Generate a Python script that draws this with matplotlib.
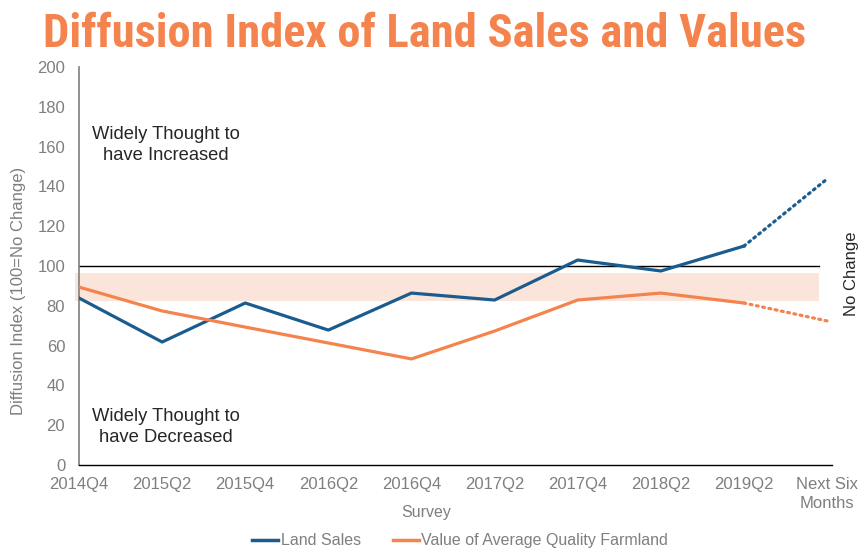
import matplotlib
matplotlib.use("Agg")
import matplotlib.pyplot as plt
from matplotlib.lines import Line2D
from matplotlib import font_manager as fm

categories = ["2014Q4", "2015Q2", "2015Q4", "2016Q2", "2016Q4", "2017Q2",
              "2017Q4", "2018Q2", "2019Q2", "Next Six\nMonths"]
land_sales = [83.9, 61.8, 81.4, 67.8, 86.4, 82.9, 103.0, 97.5, 110.0, 143.7]
farmland = [89.4, 77.4, 69.3, 61.3, 53.3, 67.3, 82.9, 86.4, 81.4, 72.4]
no_change_level = 100
band_low, band_high = 82.2, 96.4
yticks = list(range(0, 201, 20))

BLUE = "#1A5C8E"
ORANGE = "#F5834D"
BAND = "#FBE5DA"
GRAY = "#7F7F7F"

plt.rcParams['font.family'] = ['Liberation Sans', 'DejaVu Sans']


def pick_title_font():
    entries = fm.fontManager.ttflist
    prefs = ["Liberation Sans Narrow", "Roboto Condensed", "Open Sans Condensed",
             "DejaVu Sans Condensed", "Noto Sans Condensed"]
    cands = []
    for e in entries:
        w = e.weight if isinstance(e.weight, int) else (700 if 'bold' in str(e.weight).lower() else 400)
        cond = ('condensed' in str(e.stretch).lower()) or ('Narrow' in e.name) or ('Condensed' in e.name) \
            or ('condensed' in e.fname.lower()) or ('narrow' in e.fname.lower())
        if cond and w >= 600 and 'italic' not in e.fname.lower() and 'oblique' not in e.fname.lower() \
                and e.style == 'normal':
            rank = len(prefs)
            for i, p in enumerate(prefs):
                if e.name.startswith(p.split(' Condensed')[0].split(' Narrow')[0]):
                    rank = i
                    break
            cands.append((rank, e.fname))
    if cands:
        cands.sort()
        return fm.FontProperties(fname=cands[0][1]), True
    return fm.FontProperties(family=['Liberation Sans', 'DejaVu Sans'], weight='bold'), False


title_fp, condensed = pick_title_font()

fig = plt.figure(figsize=(8.6, 5.48), dpi=100)
ax = fig.add_axes([0.0919, 0.1515, 0.9674 - 0.0919, 0.8777 - 0.1515])

x = list(range(len(categories)))

ax.axhspan(band_low, band_high, xmin=-0.05 / 9.06, xmax=8.9 / 9.06,
           color=BAND, lw=0, zorder=1, clip_on=False)
ax.plot([0.0, 8.9], [no_change_level, no_change_level], color="black", lw=1, zorder=2)

ax.plot(x[:-1], land_sales[:-1], color=BLUE, lw=2.3, zorder=3)
ax.plot(x[-2:], land_sales[-2:], color=BLUE, lw=2.3, ls=(0, (0.6, 1.4)),
        dash_capstyle='round', zorder=3)
ax.plot(x[:-1], farmland[:-1], color=ORANGE, lw=2.3, zorder=3)
ax.plot(x[-2:], farmland[-2:], color=ORANGE, lw=2.3, ls=(0, (0.6, 1.4)),
        dash_capstyle='round', zorder=3)

ax.set_xlim(0, 9.06)
ax.set_ylim(0, 200)
ax.set_yticks(yticks)
ax.set_xticks(x)
ax.set_xticklabels(categories)
ax.tick_params(axis='both', length=0, colors=GRAY, labelsize=12)
ax.tick_params(axis='x', pad=9)
ax.tick_params(axis='y', pad=10)
for lab in ax.get_xticklabels():
    lab.set_linespacing(1.27)

for s in ["top", "right"]:
    ax.spines[s].set_visible(False)
ax.spines["left"].set_color(GRAY)
ax.spines["left"].set_linewidth(1.2)
ax.spines["bottom"].set_color("black")
ax.spines["bottom"].set_linewidth(1)

ax.set_ylabel("Diffusion Index (100=No Change)", color=GRAY, fontsize=12)
ax.yaxis.set_label_coords(-0.070, 0.437)
ax.set_xlabel("Survey", color=GRAY, fontsize=11.5)
ax.xaxis.set_label_coords(0.461, -0.100)

ax.text(1.05, 160.8, "Widely Thought to\nhave Increased", ha='center', va='center',
        fontsize=13.2, color="#262626", linespacing=1.3)
ax.text(1.05, 19.3, "Widely Thought to\nhave Decreased", ha='center', va='center',
        fontsize=13.2, color="#262626", linespacing=1.3)
fig.text(0.99, 0.5, "No Change", rotation=90, ha='center', va='center',
         fontsize=12, color="#262626")

title_size = 33.6 if condensed else 25
title_fp.set_size(title_size)
fig.text(0.494, 0.938, "Diffusion Index of Land Sales and Values", ha='center', va='center',
         fontproperties=title_fp, color=ORANGE)

handles = [Line2D([0], [0], color=BLUE, lw=2.5),
           Line2D([0], [0], color=ORANGE, lw=2.5)]
fig.legend(handles, ["Land Sales", "Value of Average Quality Farmland"],
           loc='center', bbox_to_anchor=(0.535, 0.013), ncol=2, frameon=False,
           fontsize=11.5, handlelength=1.65, handletextpad=0.15, columnspacing=2.0,
           labelcolor=GRAY)

fig.savefig("out.png", dpi=100)
